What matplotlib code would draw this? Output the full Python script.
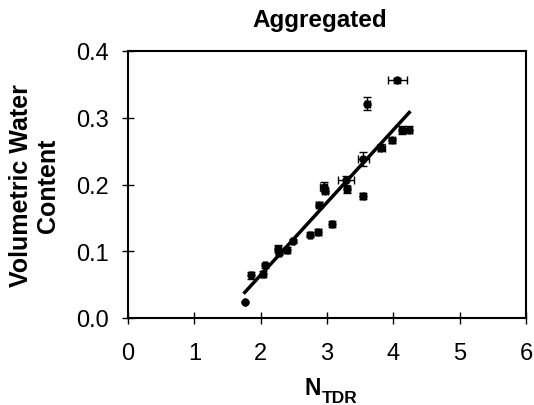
import numpy as np
import matplotlib
matplotlib.use("Agg")
import matplotlib.pyplot as plt

plt.rcParams['font.family'] = ['Liberation Sans', 'DejaVu Sans']

n_tdr = [1.76, 1.85, 2.03, 2.07, 2.26, 2.28, 2.39, 2.48, 2.75, 2.87, 2.88,
         2.95, 2.97, 3.07, 3.29, 3.30, 3.54, 3.55, 3.61, 3.82, 3.98, 4.06,
         4.13, 4.23]
vwc = [0.024, 0.064, 0.066, 0.079, 0.104, 0.098, 0.102, 0.116, 0.125, 0.129,
       0.170, 0.197, 0.191, 0.141, 0.206, 0.193, 0.183, 0.238, 0.321, 0.255,
       0.266, 0.356, 0.281, 0.282]
x_err = [0.0, 0.03, 0.03, 0.03, 0.04, 0.03, 0.03, 0.03, 0.03, 0.04, 0.04,
         0.05, 0.04, 0.03, 0.12, 0.05, 0.04, 0.09, 0.04, 0.05, 0.04, 0.14,
         0.05, 0.05]
y_err = [0.0, 0.005, 0.005, 0.004, 0.005, 0.004, 0.004, 0.003, 0.004, 0.004,
         0.004, 0.006, 0.004, 0.005, 0.006, 0.005, 0.004, 0.010, 0.010, 0.005,
         0.004, 0.004, 0.006, 0.005]
fit_x = [1.76, 4.24]
fit_slope = 0.1087
fit_intercept = -0.153

W, H = 534, 406
fig = plt.figure(figsize=(W / 100, H / 100), dpi=100)
ax = fig.add_axes([128 / W, 1 - 319 / H, (526 - 128) / W, (319 - 52) / H])

ax.errorbar(n_tdr, vwc, xerr=x_err, yerr=y_err, fmt='o', color='black',
            markersize=5, elinewidth=1.0, capsize=3, capthick=1.0)
fx = np.array(fit_x)
ax.plot(fx, fit_slope * fx + fit_intercept, color='black', linewidth=2.5)

ax.set_xlim(0, 6)
ax.set_ylim(0, 0.4)
ax.set_xticks(range(0, 7))
ax.set_yticks([0.0, 0.1, 0.2, 0.3, 0.4])
ax.set_yticklabels(['0.0', '0.1', '0.2', '0.3', '0.4'])
ax.tick_params(direction='inout', length=9, width=1.0, labelsize=17,
               top=False, right=False)
ax.tick_params(axis='x', pad=13)
ax.tick_params(axis='y', pad=9)
for s in ax.spines.values():
    s.set_linewidth(1.5)

fig.text(320 / W, 1 - 27 / H, 'Aggregated', fontsize=17.5, fontweight='bold',
         ha='center', va='baseline')
ax.set_ylabel('Volumetric Water\nContent', fontsize=18, fontweight='bold',
              labelpad=12, linespacing=1.15)
fig.text(305 / W, 1 - 395 / H, 'N', fontsize=16.5,
         fontweight='bold', ha='left', va='baseline')
fig.text(322 / W, 1 - 403 / H, 'TDR', fontsize=12.5, fontweight='bold',
         ha='left', va='baseline')

fig.savefig('out.png', dpi=100)
